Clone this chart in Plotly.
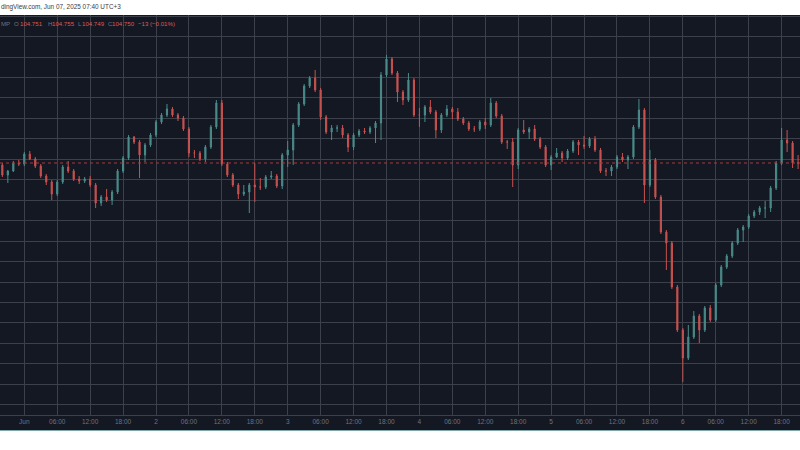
import pandas as pd
import plotly.graph_objects as go

# ---------------- data (hourly bars) ----------------
bar_start = "2025-05-31 20:00"
first_open = 104.744

closes = [
    104.714, 104.726, 104.750, 104.747,
    104.777, 104.762, 104.741, 104.711, 104.693, 104.657, 104.693, 104.738, 104.726, 104.702,
    104.696, 104.702, 104.684, 104.630, 104.648, 104.639, 104.663, 104.726, 104.765, 104.828,
    104.813, 104.774, 104.804, 104.834, 104.873, 104.894, 104.912, 104.894, 104.885, 104.852,
    104.780, 104.780, 104.762, 104.798, 104.858, 104.930, 104.747, 104.714, 104.684, 104.657,
    104.663, 104.684, 104.678, 104.678, 104.708, 104.711, 104.681, 104.774, 104.789, 104.864,
    104.927, 104.981, 105.005, 104.969, 104.888, 104.843, 104.855, 104.855, 104.834, 104.798,
    104.834, 104.846, 104.843, 104.855, 104.870, 105.014, 105.062, 105.020, 104.963, 104.939,
    104.999, 104.894, 104.894, 104.918, 104.903, 104.849, 104.894, 104.912, 104.903, 104.882,
    104.870, 104.852, 104.852, 104.873, 104.864, 104.930, 104.891, 104.813, 104.813, 104.744,
    104.849, 104.843, 104.852, 104.822, 104.798, 104.744, 104.768, 104.780, 104.765, 104.786,
    104.813, 104.804, 104.801, 104.822, 104.789, 104.726, 104.726, 104.738, 104.768, 104.759,
    104.768, 104.858, 104.909, 104.684, 104.759, 104.648, 104.543, 104.510, 104.378, 104.249,
    104.165, 104.228, 104.291, 104.249, 104.315, 104.279, 104.384, 104.438, 104.471, 104.510,
    104.549, 104.558, 104.591, 104.603, 104.615, 104.615, 104.675, 104.750, 104.819, 104.810,
    104.750, 104.750,
]

highs = [
    104.750, 104.729, 104.756, 104.759,
    104.783, 104.786, 104.768, 104.747, 104.717, 104.699, 104.699, 104.744, 104.756, 104.732,
    104.711, 104.708, 104.711, 104.690, 104.654, 104.672, 104.669, 104.732, 104.771, 104.834,
    104.831, 104.819, 104.810, 104.840, 104.879, 104.900, 104.927, 104.918, 104.900, 104.891,
    104.858, 104.789, 104.786, 104.804, 104.864, 104.939, 104.939, 104.753, 104.720, 104.690,
    104.684, 104.690, 104.750, 104.705, 104.714, 104.726, 104.717, 104.780, 104.816, 104.870,
    104.933, 104.987, 105.011, 105.029, 104.975, 104.894, 104.864, 104.864, 104.864, 104.840,
    104.840, 104.852, 104.855, 104.861, 104.876, 105.023, 105.074, 105.068, 105.026, 104.969,
    105.020, 105.005, 104.915, 104.924, 104.939, 104.909, 104.900, 104.924, 104.918, 104.915,
    104.888, 104.876, 104.861, 104.879, 104.885, 104.945, 104.936, 104.897, 104.819, 104.825,
    104.855, 104.879, 104.858, 104.864, 104.828, 104.804, 104.774, 104.795, 104.786, 104.792,
    104.819, 104.819, 104.831, 104.828, 104.831, 104.795, 104.735, 104.744, 104.774, 104.780,
    104.774, 104.864, 104.942, 104.915, 104.789, 104.765, 104.654, 104.549, 104.516, 104.384,
    104.255, 104.264, 104.306, 104.297, 104.321, 104.324, 104.390, 104.444, 104.477, 104.516,
    104.555, 104.564, 104.597, 104.609, 104.621, 104.636, 104.681, 104.756, 104.855, 104.849,
    104.816, 104.774,
]

lows = [
    104.708, 104.690, 104.723, 104.741,
    104.741, 104.759, 104.735, 104.705, 104.684, 104.639, 104.651, 104.687, 104.720, 104.696,
    104.687, 104.690, 104.678, 104.615, 104.621, 104.633, 104.624, 104.657, 104.720, 104.759,
    104.807, 104.705, 104.753, 104.798, 104.828, 104.867, 104.888, 104.888, 104.876, 104.846,
    104.768, 104.765, 104.756, 104.753, 104.792, 104.852, 104.741, 104.708, 104.678, 104.642,
    104.651, 104.600, 104.633, 104.669, 104.672, 104.702, 104.675, 104.672, 104.738, 104.744,
    104.858, 104.921, 104.975, 104.963, 104.879, 104.837, 104.819, 104.843, 104.825, 104.783,
    104.789, 104.828, 104.837, 104.837, 104.810, 104.819, 105.008, 105.014, 104.933, 104.924,
    104.933, 104.888, 104.858, 104.873, 104.897, 104.825, 104.840, 104.888, 104.882, 104.876,
    104.864, 104.846, 104.843, 104.846, 104.852, 104.858, 104.885, 104.807, 104.792, 104.678,
    104.732, 104.837, 104.822, 104.816, 104.792, 104.738, 104.729, 104.765, 104.753, 104.759,
    104.780, 104.774, 104.792, 104.795, 104.783, 104.720, 104.711, 104.711, 104.732, 104.753,
    104.732, 104.762, 104.852, 104.630, 104.678, 104.642, 104.537, 104.429, 104.372, 104.243,
    104.093, 104.159, 104.222, 104.210, 104.243, 104.273, 104.273, 104.378, 104.432, 104.465,
    104.504, 104.513, 104.552, 104.585, 104.594, 104.585, 104.603, 104.669, 104.744, 104.783,
    104.735, 104.732,
]

tick_times = pd.date_range("2025-06-01 00:00", "2025-06-06 18:00", freq="6h")
tick_labels = ["Jun", "06:00", "12:00", "18:00",
               "2", "06:00", "12:00", "18:00",
               "3", "06:00", "12:00", "18:00",
               "4", "06:00", "12:00", "18:00",
               "5", "06:00", "12:00", "18:00",
               "6", "06:00", "12:00", "18:00"]

header_text = "dingView.com, Jun 07, 2025 07:40 UTC+3"
legend_items = [("MP", "grey"), ("O", "grey"), ("104.751", "red"),
                ("H", "grey"), ("104.755", "red"),
                ("L", "grey"), ("104.749", "red"),
                ("C", "grey"), ("104.750", "red"),
                ("\u221213 (\u22120.01%)", "red")]
legend_px = [0, 13, 18.5, 46.5, 51, 76.5, 81, 106.5, 111, 136.5]

# ---------------- figure ----------------
times = pd.date_range(bar_start, periods=len(closes), freq="h")
opens = [first_open] + closes[:-1]

BG = "#141823"
GRID = "#3c404b"
UP = "#4a8c8a"
DOWN = "#c85250"
TXT = "#70737e"

fig = go.Figure(go.Candlestick(
    x=times, open=opens, high=highs, low=lows, close=closes,
    increasing=dict(line=dict(color=UP, width=1), fillcolor=UP),
    decreasing=dict(line=dict(color=DOWN, width=1), fillcolor=DOWN),
    whiskerwidth=0, hoverinfo="skip",
))

fig.update_layout(
    width=800, height=450,
    margin=dict(l=0, r=0, t=15, b=35, pad=0),
    paper_bgcolor="white", plot_bgcolor=BG,
    showlegend=False, boxgap=0.7,
    font=dict(family="Liberation Sans, Arial, sans-serif", size=6.5, color=TXT),
    xaxis=dict(
        range=["2025-05-31 19:34:19", "2025-06-06 21:21:00"],
        rangeslider=dict(visible=False),
        tickvals=list(tick_times), ticktext=tick_labels,
        tickfont=dict(size=6.5, color=TXT),
        showgrid=True, gridcolor=GRID, gridwidth=1,
        showline=True, linecolor=GRID, linewidth=1,
        ticks="", zeroline=False, fixedrange=True, automargin=False,
    ),
    yaxis=dict(
        range=[103.994, 105.194],
        tick0=104.7611, dtick=0.06135, tickmode="linear",
        showticklabels=False, showgrid=True, gridcolor=GRID, gridwidth=1,
        zeroline=False, fixedrange=True, automargin=False,
    ),
)

# dark strip under the plot (time-axis band) and its lower border
fig.add_shape(type="rect", xref="paper", yref="paper", x0=0, x1=1,
              y0=-15 / 400, y1=0, fillcolor=BG, line_width=0, layer="below")
fig.add_shape(type="line", xref="paper", yref="paper", x0=0, x1=1,
              y0=-15.5 / 400, y1=-15.5 / 400, line=dict(color="#7fa6a8", width=1))

# last-price dotted line
fig.add_shape(type="line", xref="paper", yref="y", x0=0, x1=1,
              y0=closes[-1], y1=closes[-1],
              line=dict(color="#a8393d", width=1, dash="dot"))

# header (white band) text
fig.add_annotation(text=header_text, xref="paper", yref="paper",
                   x=0, y=1 + 8 / 400, xanchor="left", yanchor="middle",
                   showarrow=False, borderpad=0,
                   font=dict(size=6.4, color="#3c3c3c"))

# OHLC legend line
for (txt, kind), px in zip(legend_items, legend_px):
    fig.add_annotation(text=txt, xref="paper", yref="paper",
                       x=px / 800, y=1 - 8.5 / 400, xanchor="left", yanchor="middle",
                       showarrow=False, borderpad=0,
                       font=dict(size=6.1, color=(TXT if kind == "grey" else "#dc5a58")))

fig.write_html("out.html", config={"staticPlot": True},
               post_script="document.body.style.margin='0';document.body.style.overflow='hidden';")
